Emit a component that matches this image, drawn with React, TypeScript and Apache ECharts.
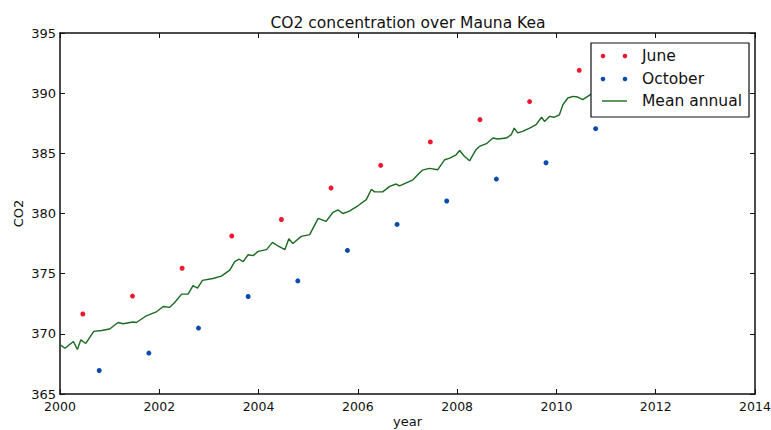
import React, { useEffect, useRef } from "react";
import * as echarts from "echarts";

const TITLE = "CO2 concentration over Mauna Kea";
const X_NAME = "year";
const Y_NAME = "CO2";
const LEGEND_NAMES = ["June", "October", "Mean annual"];

// June / October observations (decimal year, ppm)
const juneYears = [2000.46, 2001.46, 2002.46, 2003.46, 2004.46, 2005.46, 2006.46, 2007.46, 2008.46, 2009.46, 2010.46];
const juneCO2 = [371.65, 373.14, 375.45, 378.13, 379.5, 382.12, 384.0, 385.95, 387.8, 389.3, 391.9];
const octYears = [2000.79, 2001.79, 2002.79, 2003.79, 2004.79, 2005.79, 2006.79, 2007.79, 2008.79, 2009.79, 2010.79];
const octCO2 = [366.95, 368.4, 370.48, 373.1, 374.4, 376.93, 379.09, 381.04, 382.86, 384.22, 387.05];

// Mean annual (running) curve
const meanYears = [
  2000.0, 2000.1, 2000.27, 2000.35, 2000.42, 2000.52, 2000.68, 2000.84, 2001.0, 2001.17,
  2001.27, 2001.47, 2001.54, 2001.74, 2001.95, 2002.08, 2002.21, 2002.31, 2002.45, 2002.58,
  2002.68, 2002.77, 2002.87, 2003.08, 2003.25, 2003.42, 2003.52, 2003.61, 2003.69, 2003.79,
  2003.89, 2003.99, 2004.16, 2004.28, 2004.39, 2004.53, 2004.61, 2004.69, 2004.86, 2005.03,
  2005.2, 2005.36, 2005.5, 2005.6, 2005.7, 2005.83, 2006.0, 2006.17, 2006.27, 2006.34,
  2006.5, 2006.64, 2006.77, 2006.84, 2007.11, 2007.24, 2007.3, 2007.44, 2007.61, 2007.75,
  2007.85, 2007.98, 2008.05, 2008.15, 2008.25, 2008.38, 2008.45, 2008.59, 2008.72, 2008.82,
  2008.99, 2009.09, 2009.15, 2009.22, 2009.32, 2009.46, 2009.59, 2009.7, 2009.76, 2009.86,
  2009.96, 2010.06, 2010.13, 2010.23, 2010.33, 2010.43, 2010.53, 2010.63, 2010.73,
];
const meanCO2 = [
  369.1, 368.8, 369.36, 368.7, 369.5, 369.2, 370.2, 370.28, 370.4, 370.94,
  370.84, 370.98, 370.94, 371.5, 371.85, 372.27, 372.2, 372.6, 373.3, 373.3,
  374.0, 373.8, 374.44, 374.6, 374.8, 375.3, 376.0, 376.2, 376.0, 376.57,
  376.5, 376.85, 377.0, 377.6, 377.3, 377.0, 377.9, 377.5, 378.1, 378.24,
  379.6, 379.34, 380.1, 380.3, 380.0, 380.2, 380.64, 381.15, 382.0, 381.8,
  381.8, 382.25, 382.45, 382.3, 382.8, 383.36, 383.6, 383.75, 383.64, 384.47,
  384.6, 384.88, 385.24, 384.74, 384.38, 385.3, 385.57, 385.8, 386.27, 386.19,
  386.27, 386.55, 387.1, 386.7, 386.82, 387.1, 387.38, 388.0, 387.65, 388.07,
  388.0, 388.2, 389.04, 389.6, 389.73, 389.68, 389.46, 389.73, 390.0,
];

const X_MIN = 2000;
const X_MAX = 2014;
const X_STEP = 2;
const Y_MIN = 365;
const Y_MAX = 395;
const Y_STEP = 5;

const RED = "#f01830";
const BLUE = "#0a4aae";
const GREEN = "#1a6a20";
const FONT = "DejaVu Sans";

export default function App() {
  const ref = useRef<HTMLDivElement>(null);

  useEffect(() => {
    if (!ref.current) return;
    const chart = echarts.init(ref.current, null, { renderer: "svg" });

    const baseAxis = {
      type: "value" as const,
      axisLine: { show: true, onZero: false, lineStyle: { color: "#111", width: 1.5 } },
      axisTick: { show: true, inside: true, length: 5, lineStyle: { color: "#111", width: 1 } },
      splitLine: { show: false },
    };

    const legendTop = 43;
    const legendLeft = 591;
    const rowY = [56, 79, 101];
    const colors = [RED, BLUE];

    const graphic: any[] = [
      {
        type: "rect",
        z: 100,
        shape: { x: legendLeft, y: legendTop, width: 158, height: 74 },
        style: { fill: "#fff", stroke: "#111", lineWidth: 1.2 },
      },
    ];
    for (let i = 0; i < 2; i++) {
      graphic.push({ type: "circle", z: 101, shape: { cx: 603, cy: rowY[i], r: 2.3 }, style: { fill: colors[i] } });
      graphic.push({ type: "circle", z: 101, shape: { cx: 625, cy: rowY[i], r: 2.3 }, style: { fill: colors[i] } });
    }
    graphic.push({
      type: "line",
      z: 101,
      shape: { x1: 602, y1: rowY[2], x2: 627, y2: rowY[2] },
      style: { stroke: GREEN, lineWidth: 1.4 },
    });
    LEGEND_NAMES.forEach((n, i) => {
      graphic.push({
        type: "text",
        z: 101,
        x: 642,
        y: rowY[i],
        style: { text: n, font: `15.5px "${FONT}"`, fill: "#111", verticalAlign: "middle", align: "left" },
      });
    });

    chart.setOption({
      animation: false,
      backgroundColor: "#fff",
      textStyle: { fontFamily: FONT },
      title: {
        text: TITLE,
        left: 403,
        top: 10,
        textAlign: "center",
        textStyle: { fontFamily: FONT, fontSize: 15.5, fontWeight: "normal", color: "#111" },
      },
      grid: { left: 60, right: 16, top: 33, bottom: 36, containLabel: false, outerBoundsMode: "none" },
      xAxis: [
        {
          ...baseAxis,
          min: X_MIN,
          max: X_MAX,
          interval: X_STEP,
          position: "bottom",
          name: X_NAME,
          nameLocation: "middle",
          nameGap: 20,
          nameMoveOverlap: false,
          nameTextStyle: { fontFamily: FONT, fontSize: 13, lineHeight: 14, color: "#111" },
          axisLabel: {
            show: true,
            margin: 6,
            fontFamily: FONT,
            fontSize: 12.5,
            lineHeight: 13,
            color: "#111",
            showMinLabel: true,
            showMaxLabel: true,
            formatter: (v: number) => String(v),
          },
        },
        {
          ...baseAxis,
          min: X_MIN,
          max: X_MAX,
          interval: X_STEP,
          position: "top",
          axisLabel: { show: false },
        },
      ],
      yAxis: [
        {
          ...baseAxis,
          min: Y_MIN,
          max: Y_MAX,
          interval: Y_STEP,
          position: "left",
          name: Y_NAME,
          nameLocation: "middle",
          nameGap: 35,
          nameMoveOverlap: false,
          nameTextStyle: { fontFamily: FONT, fontSize: 13, color: "#111" },
          axisLabel: {
            show: true,
            margin: 4,
            fontFamily: FONT,
            fontSize: 13,
            lineHeight: 12,
            color: "#111",
            showMinLabel: true,
            showMaxLabel: true,
            formatter: (v: number) => String(v),
          },
        },
        {
          ...baseAxis,
          min: Y_MIN,
          max: Y_MAX,
          interval: Y_STEP,
          position: "right",
          axisLabel: { show: false },
        },
      ],
      series: [
        {
          name: LEGEND_NAMES[2],
          type: "line",
          data: meanYears.map((x, i) => [x, meanCO2[i]]),
          showSymbol: false,
          symbol: "none",
          lineStyle: { color: GREEN, width: 1.4 },
          itemStyle: { color: GREEN },
          z: 2,
        },
        {
          name: LEGEND_NAMES[0],
          type: "scatter",
          data: juneYears.map((x, i) => [x, juneCO2[i]]),
          symbolSize: 5,
          itemStyle: { color: RED, opacity: 1 },
          z: 3,
        },
        {
          name: LEGEND_NAMES[1],
          type: "scatter",
          data: octYears.map((x, i) => [x, octCO2[i]]),
          symbolSize: 5,
          itemStyle: { color: BLUE, opacity: 1 },
          z: 3,
        },
      ],
      graphic,
    });

    return () => chart.dispose();
  }, []);

  return (
    <div
      ref={ref}
      style={{ position: "absolute", left: 0, top: 0, width: 771, height: 430, background: "#fff" }}
    />
  );
}
